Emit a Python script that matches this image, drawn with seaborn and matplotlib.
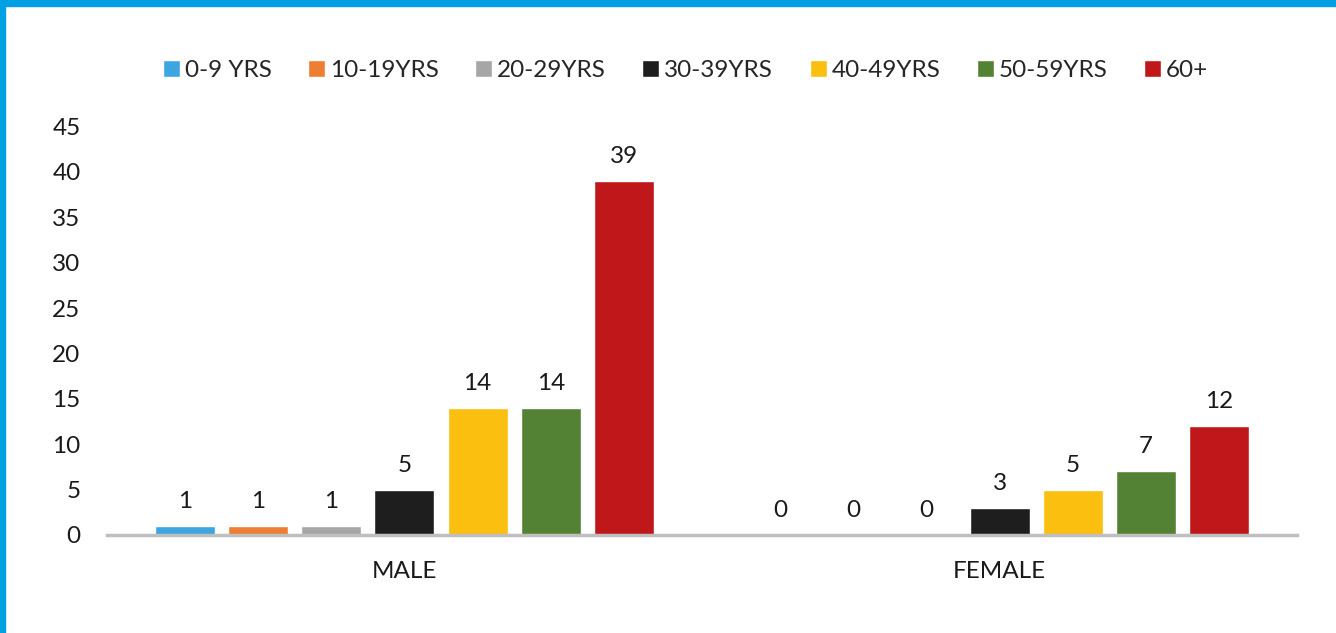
import pandas as pd
import matplotlib.pyplot as plt
import seaborn as sns
from matplotlib.patches import Rectangle

# values
sexes = ["MALE", "FEMALE"]
age_groups = ["0-9 YRS", "10-19YRS", "20-29YRS", "30-39YRS", "40-49YRS", "50-59YRS", "60+"]
male_counts = [1, 1, 1, 5, 14, 14, 39]
female_counts = [0, 0, 0, 3, 5, 7, 12]
colors = ["#3DA5DF", "#EE7E33", "#A6A6A6", "#1E1E1E", "#FBBF0F", "#548235", "#C0181A"]

rows = []
for sex, counts in zip(sexes, [male_counts, female_counts]):
    for grp, n in zip(age_groups, counts):
        rows.append({"Sex": sex, "Age": grp, "Count": n})
df = pd.DataFrame(rows)

sns.set_style("white")
plt.rcParams["font.family"] = ["Lato", "DejaVu Sans"]

fig = plt.figure(figsize=(13.36, 6.33), dpi=100)
ax = fig.add_axes([0.080, 0.155, 0.891, 0.645])

sns.barplot(data=df, x="Sex", y="Count", hue="Age", order=sexes, hue_order=age_groups,
            palette=colors, width=0.86, gap=0.18, saturation=1, ax=ax, legend=True)

for cont in ax.containers:
    ax.bar_label(cont, fontsize=17.5, padding=10, color="#1a1a1a")

ax.set_ylim(0, 45)
ax.set_xlim(-0.5, 1.5)
ax.set_yticks(range(0, 46, 5))
ax.set_xlabel("")
ax.set_ylabel("")
ax.tick_params(axis="y", labelsize=17.5, pad=19, length=0, labelcolor="#1a1a1a")
ax.tick_params(axis="x", labelsize=17.5, pad=19, length=0, labelcolor="#1a1a1a")
for side in ["left", "right", "top"]:
    ax.spines[side].set_visible(False)
ax.spines["bottom"].set_color("#BFBFBF")
ax.spines["bottom"].set_linewidth(2.5)

ax.legend(loc="center", bbox_to_anchor=(0.513, 0.889), bbox_transform=fig.transFigure,
          ncol=7, frameon=False, fontsize=17.5, handlelength=0.7, handleheight=0.7,
          handletextpad=0.2, columnspacing=1.5)

# blue frame on top and left edges
fig.patches.append(Rectangle((0, 1 - 6 / 633), 1, 6 / 633, transform=fig.transFigure,
                             color="#00A0E3", zorder=0))
fig.patches.append(Rectangle((0, 0), 5 / 1336, 1, transform=fig.transFigure,
                             color="#00A0E3", zorder=0))

fig.savefig("out.png", dpi=100)
